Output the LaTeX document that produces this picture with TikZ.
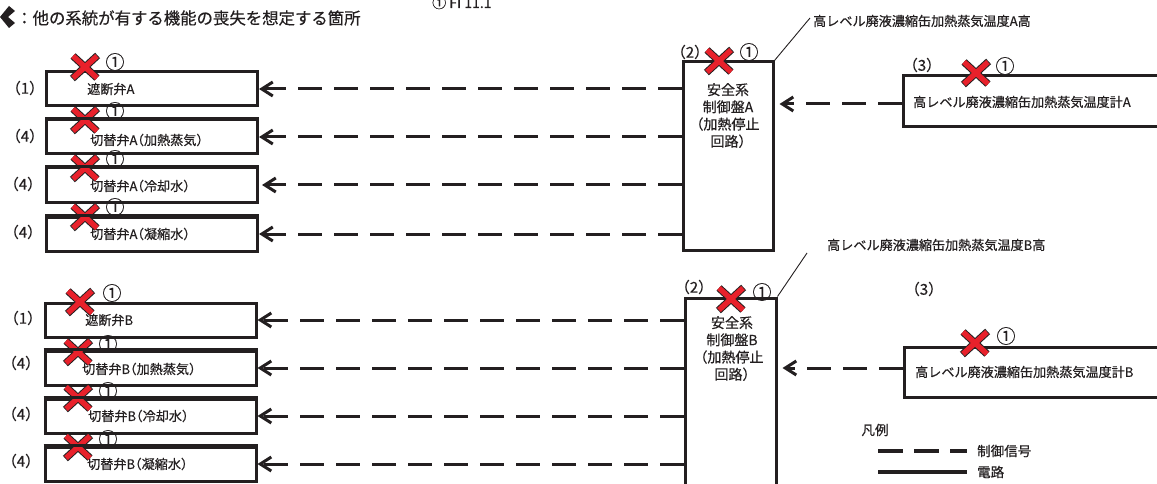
\documentclass[tikz,border=0pt]{standalone}
\usepackage{fontspec}
\setmainfont{Noto Sans CJK JP}[FakeBold=0.5]
\newfontfamily\jph{Noto Sans CJK JP}[RawFeature=+halt,FakeBold=0.5]
\usetikzlibrary{arrows.meta}
\definecolor{ink}{HTML}{231F20}
\definecolor{xred}{HTML}{E8212B}
\newcommand\fsz[1]{\fontsize{#1}{#1}\selectfont}
\begin{document}
\begin{tikzpicture}[x=1pt,y=-1pt,
  vbox/.style={draw=ink, line width=3pt, rectangle, inner sep=0pt, minimum width=211pt, minimum height=34pt},
  pbox/.style={draw=ink, line width=3pt, rectangle, inner sep=0pt},
  txt/.style={inner sep=0pt, text=ink, font=\jph\fsz{13.1}},
  num/.style={inner sep=0pt, text=ink, font=\jph\fsz{15}},
  circ/.style={inner sep=0pt, text=ink, font=\fsz{19}},
  ptxt/.style={inner sep=0pt, text=ink, font=\jph\fontsize{14}{17.2}\selectfont, align=center},
  sig/.style={draw=ink, line width=3pt, dash pattern=on 24pt off 12pt, -{Straight Barb[length=11pt,width=14pt]}},
  leader/.style={draw=ink, line width=0.9pt},
  redx/.pic={
    \draw[line width=7.4pt, ink, shorten <=-0.8pt, shorten >=-0.8pt] (-12,-11)--(12,11) (-12,11)--(12,-11);
    \draw[line width=5.4pt, xred] (-12,-11)--(12,11) (-12,11)--(12,-11);
  },
  blkx/.pic={
    \fill[ink] (0,17) -- (9,6) -- (15,11) -- (8,17) -- (15,23) -- (9,28) -- cycle;
  }
]
\useasboundingbox (0,0) rectangle (1157,484);
\clip (0,0) rectangle (1157,484);

% header
\pic at (0,0) {blkx};
\node[inner sep=0pt, anchor=west, text=ink, font=\fsz{16.4}] (hdr) at (16,18) {：他の系統が有する機能の喪失を想定する箇所};
\node[inner sep=0pt, anchor=base west, text=ink, font=\fsz{14}] (top) at (432,8) {① FI 11.1};

% ---------- system A ----------
\node[vbox] (a1) at (152,89) {};
\node[vbox] (a2) at (152,137) {};
\node[vbox] (a3) at (152,185) {};
\node[vbox] (a4) at (152,234) {};
\node[txt, anchor=west] (ta1) at (87,89) {遮断弁A};
\node[txt, anchor=west] (ta2) at (90,140) {切替弁A（加熱蒸気）};
\node[txt, anchor=west] (ta3) at (90,186) {切替弁A（冷却水）};
\node[txt, anchor=west] (ta4) at (90,234) {切替弁A（凝縮水）};
\node[num] (na1) at (25,88) {（1）};
\node[num] (na2) at (25,136) {（4）};
\node[num] (na3) at (23,184) {（4）};
\node[num] (na4) at (23,232) {（4）};

\node[pbox, minimum width=90pt, minimum height=188pt] (pA) at (728,156) {};
\node[ptxt, anchor=north] (tpA) at (728,83) {安全系\\制御盤A\\（加熱停止\\回路）};
\node[num] (n2A) at (690,52) {（2）};

\node[pbox, minimum width=262pt, minimum height=51pt] (sA) at (1034,101.5) {};
\node[txt, anchor=west] (tsA) at (913,102) {高レベル廃液濃縮缶加熱蒸気温度計A};
\node[num] (n3A) at (922,65) {（3）};

\coordinate (hA) at (0,104);
\draw[sig] (pA.west |- a1) -- (a1.east);
\draw[sig] (pA.west |- a2) -- (a2.east);
\draw[sig, shorten >=3pt] (pA.west |- a3) -- (a3.east);
\draw[sig] (pA.west |- a4) -- (a4.east);
\draw[sig, shorten >=5pt] (sA.west |- hA) -- (pA.east |- hA);

\coordinate (lA) at (810,18);
\draw[leader] (pA.north east) -- (lA);
\node[txt, anchor=west] (tlA) at (813,21) {高レベル廃液濃縮缶加熱蒸気温度A高};

% ---------- system B ----------
\node[vbox] (b1) at (150.5,320) {};
\node[vbox] (b2) at (150.5,368) {};
\node[vbox] (b3) at (150.5,416) {};
\node[vbox] (b4) at (150.5,464) {};
\node[txt, anchor=west] (tb1) at (85,320) {遮断弁B};
\node[txt, anchor=west] (tb2) at (82,369) {切替弁B（加熱蒸気）};
\node[txt, anchor=west] (tb3) at (88,416) {切替弁B（冷却水）};
\node[txt, anchor=west] (tb4) at (87,464) {切替弁B（凝縮水）};
\node[num] (nb1) at (23,318) {（1）};
\node[num] (nb2) at (21,363) {（4）};
\node[num] (nb3) at (21,414) {（4）};
\node[num] (nb4) at (21,461) {（4）};

\node[pbox, minimum width=91pt, minimum height=210pt] (pB) at (730.5,403) {};
\node[ptxt, anchor=north] (tpB) at (732,316) {安全系\\制御盤B\\（加熱停止\\回路）};
\node[num] (n2B) at (694,287) {（2）};

\node[pbox, minimum width=261pt, minimum height=50pt] (sB) at (1034.5,372) {};
\node[txt, anchor=west] (tsB) at (915,372) {高レベル廃液濃縮缶加熱蒸気温度計B};
\node[num] (n3B) at (924,289) {（3）};

\coordinate (hB) at (0,368);
\draw[sig] (pB.west |- b1) -- (b1.east);
\draw[sig] (pB.west |- b2) -- (b2.east);
\draw[sig] (pB.west |- b3) -- (b3.east);
\draw[sig] (pB.west |- b4) -- (b4.east);
\draw[sig, shorten >=5pt] (sB.west |- hB) -- (pB.east |- hB);

\coordinate (lB) at (807,253);
\draw[leader] (pB.north east) -- (lB);
\node[txt, anchor=west] (tlB) at (827,245) {高レベル廃液濃縮缶加熱蒸気温度B高};

% ---------- red crosses and circled numbers ----------
\foreach \x/\y in {85/67, 85/120, 85/168, 85/217, 80/302, 78/352, 78/398, 78/447, 719/61, 731/299, 976/73, 975/343}
  \pic at (\x,\y) {redx};
\foreach \x/\y [count=\i] in {115/62, 115/111, 115/159, 115/207, 112/293, 108/344, 108/391, 108/439, 749/52, 762/292, 1005/66, 1006/336}
  \node[circ] (c\i) at (\x,\y) {①};
% redraw the box tops over the lower circled numbers
\foreach \n in {a2,a3,a4,b2,b3,b4}
  \draw[ink, line width=3pt] (\n.north west) -- (\n.north east);

% ---------- legend ----------
\node[inner sep=0pt, text=ink, font=\fsz{13.5}] (lg) at (875,430) {凡例};
\coordinate (l1s) at (878,451); \coordinate (l1e) at (967,451);
\coordinate (l2s) at (878,472); \coordinate (l2e) at (967,472);
\draw[ink, line width=3.3pt, dash pattern=on 25pt off 11pt] (l1s) -- (l1e);
\draw[ink, line width=4pt] (l2s) -- (l2e);
\node[inner sep=0pt, anchor=west, text=ink, font=\fsz{13.5}] (lg1) at (977,451) {制御信号};
\node[inner sep=0pt, anchor=west, text=ink, font=\fsz{13.5}] (lg2) at (977,472) {電路};
\end{tikzpicture}
\end{document}
